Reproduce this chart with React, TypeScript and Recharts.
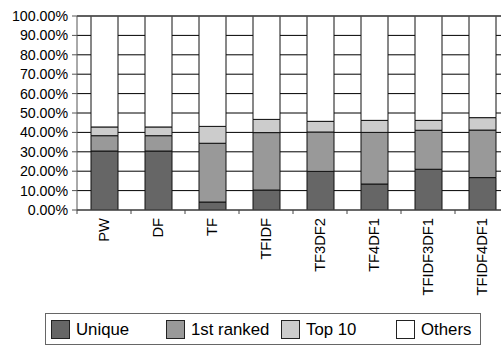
import React from "react";
import { BarChart, Bar, XAxis, YAxis, CartesianGrid, ReferenceLine } from "recharts";

// Share of answers per weighting scheme, split into four stacked groups (percent)
const schemes = ["PW", "DF", "TF", "TFIDF", "TF3DF2", "TF4DF1", "TFIDF3DF1", "TFIDF4DF1"];
const unique = [30.4, 30.4, 4.1, 10.3, 19.9, 13.4, 21.0, 16.7];
const firstRanked = [7.9, 7.9, 30.3, 29.6, 20.3, 26.6, 20.1, 24.5];
const top10 = [4.5, 4.5, 8.7, 6.8, 5.5, 6.2, 5.1, 6.4];
const others = [57.2, 57.2, 56.9, 53.3, 54.3, 53.8, 53.8, 52.4];
const yTicks = [0, 10, 20, 30, 40, 50, 60, 70, 80, 90, 100];

const seriesNames = ["Unique", "1st ranked", "Top 10", "Others"];
const seriesKeys = ["unique", "firstRanked", "top10", "others"];
const seriesColors = ["#666666", "#999999", "#cccccc", "#ffffff"];

const data = schemes.map((name, i) => ({
  name,
  unique: unique[i],
  firstRanked: firstRanked[i],
  top10: top10[i],
  others: others[i],
}));

const FONT = "'Liberation Sans', Arial, Helvetica, sans-serif";
const CHART_W = 520;
const CHART_H = 346;
const PLOT_LEFT = 77;
const PLOT_RIGHT = 509;
const HALF_BAND = (PLOT_RIGHT - PLOT_LEFT) / schemes.length / 2;

const CategoryTick = (props: any) => {
  const { x, y, payload } = props;
  return (
    <g>
      <line x1={x - HALF_BAND} x2={x - HALF_BAND} y1={y} y2={y + 4} stroke="#444" strokeWidth={1} />
      <text
        x={x}
        y={y + 8}
        transform={`rotate(-90, ${x}, ${y + 8})`}
        textAnchor="end"
        dominantBaseline="central"
        fontFamily={FONT}
        fontSize={14.7}
        fill="#000"
      >
        {payload.value}
      </text>
    </g>
  );
};

const LegendBox = () => (
  <div
    style={{
      position: "absolute",
      left: 45,
      top: 313,
      width: 436,
      height: 32,
      border: "1px solid #666",
      boxSizing: "border-box",
      background: "#fff",
    }}
  >
    {seriesNames.map((n, i) => (
      <div
        key={n}
        style={{
          position: "absolute",
          left: 5 + i * 115,
          top: 6,
          display: "flex",
          alignItems: "center",
          height: 19,
        }}
      >
        <div
          style={{
            width: 19,
            height: 19,
            boxSizing: "border-box",
            border: "1px solid #222",
            background: seriesColors[i],
          }}
        />
        <span
          style={{
            marginLeft: 6,
            fontFamily: FONT,
            fontSize: 16.8,
            color: "#000",
            whiteSpace: "nowrap",
          }}
        >
          {n}
        </span>
      </div>
    ))}
  </div>
);

export default function App() {
  return (
    <div
      style={{
        position: "fixed",
        left: 0,
        top: 0,
        width: 501,
        height: 346,
        overflow: "hidden",
        background: "#fff",
      }}
    >
      <BarChart
        width={CHART_W}
        height={CHART_H}
        data={data}
        margin={{ top: 16, right: CHART_W - PLOT_RIGHT, left: 0, bottom: 36 }}
        barSize={27}
      >
        <CartesianGrid vertical={false} stroke="#000" strokeWidth={1} />
        <YAxis
          width={PLOT_LEFT}
          domain={[0, 100]}
          ticks={yTicks}
          interval={0}
          tickFormatter={(v: number) => `${v.toFixed(2)}%`}
          tick={{ fontFamily: FONT, fontSize: 14.2, fill: "#000" }}
          tickSize={5}
          tickMargin={4}
          stroke="#555"
          allowDataOverflow
        />
        <XAxis
          dataKey="name"
          height={100}
          interval={0}
          tickLine={false}
          tickSize={0}
          tickMargin={0}
          stroke="#555"
          tick={<CategoryTick />}
        />
        <ReferenceLine y={100} stroke="#555" strokeWidth={1.5} />
        {seriesKeys.map((k, i) => (
          <Bar
            key={k}
            dataKey={k}
            name={seriesNames[i]}
            stackId="s"
            fill={seriesColors[i]}
            stroke="#111"
            strokeWidth={1}
            isAnimationActive={false}
          />
        ))}
      </BarChart>
      <LegendBox />
    </div>
  );
}
